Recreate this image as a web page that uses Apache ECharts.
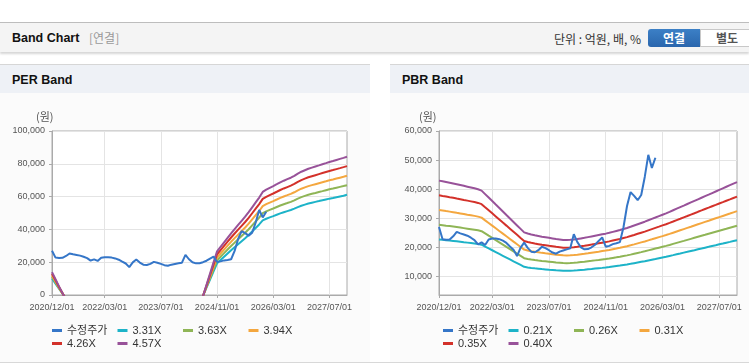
<!DOCTYPE html>
<html><head><meta charset="utf-8">
<script src="https://cdn.jsdelivr.net/npm/echarts@6/dist/echarts.min.js"></script>
<style>
html,body{margin:0;padding:0;width:749px;height:364px;overflow:hidden;background:#fff;font-family:'Noto Sans CJK KR','Liberation Sans',sans-serif;}
.abs{position:absolute;}
#topline{left:0;top:22px;width:749px;height:0;border-top:1px solid #bdbdbd;}
#bar{left:0;top:23px;width:749px;height:29px;background:#f4f4f4;box-shadow:0 2px 2px rgba(0,0,0,0.16);}
#bar .t{position:absolute;left:12px;top:6px;font-weight:bold;font-size:12.5px;line-height:18px;color:#111;font-family:'Liberation Sans',sans-serif;}
#bar .s{position:absolute;left:89px;top:6px;font-size:12px;line-height:18px;color:#999;}
#bar .u{position:absolute;right:108px;top:8px;font-size:12px;line-height:16px;color:#333;}
#b1{left:648px;top:29px;width:52px;height:18px;background:linear-gradient(#3c80c6,#2a66ad);border-radius:3px 0 0 3px;color:#fff;font-weight:bold;font-size:12px;line-height:18px;text-align:center;}
#b2{left:700px;top:29px;width:52px;height:16px;background:#fff;border:1px solid #c8c8c8;color:#555;font-weight:bold;font-size:12px;line-height:16px;text-align:center;}
.ph{top:64px;height:28px;background:#eef1f6;border-top:1px solid #d6d6d6;}
.ph span{position:absolute;left:12px;top:6px;font-weight:bold;font-size:12.5px;line-height:18px;color:#111;font-family:'Liberation Sans',sans-serif;}
.pb{top:93px;height:269px;background:#fbfbfb;}
#bottom{left:0;top:362px;width:749px;height:0;border-top:1px solid #d8d8d8;}
#chart{left:0;top:0;width:749px;height:364px;}
</style></head>
<body>
<div id="topline" class="abs"></div>
<div id="bar" class="abs"><div class="t">Band Chart</div><div class="s">[연결]</div><div class="u">단위 : 억원, 배, %</div></div>
<div id="b1" class="abs">연결</div>
<div id="b2" class="abs">별도</div>
<div class="abs ph" style="left:0;width:370px;"><span>PER Band</span></div>
<div class="abs ph" style="left:390px;width:359px;"><span>PBR Band</span></div>
<div class="abs pb" style="left:0;width:370px;"></div>
<div class="abs pb" style="left:390px;width:359px;"></div>
<div id="bottom" class="abs"></div>
<div id="chart" class="abs"></div>
<script>
var categories = [
'2020/12/01',
'2021/01/01','2021/02/01','2021/03/01','2021/04/01','2021/05/01','2021/06/01','2021/07/01','2021/08/01','2021/09/01','2021/10/01','2021/11/01','2021/12/01',
'2022/01/01','2022/02/01','2022/03/01','2022/04/01','2022/05/01','2022/06/01','2022/07/01','2022/08/01','2022/09/01','2022/10/01','2022/11/01','2022/12/01',
'2023/01/01','2023/02/01','2023/03/01','2023/04/01','2023/05/01','2023/06/01','2023/07/01','2023/08/01','2023/09/01','2023/10/01','2023/11/01','2023/12/01',
'2024/01/01','2024/02/01','2024/03/01','2024/04/01','2024/05/01','2024/06/01','2024/07/01','2024/08/01','2024/09/01','2024/10/01','2024/11/01','2024/12/01',
'2025/01/01','2025/02/01','2025/03/01','2025/04/01','2025/05/01','2025/06/01','2025/07/01','2025/08/01','2025/09/01','2025/10/01','2025/11/01','2025/12/01',
'2026/01/01','2026/02/01','2026/03/01','2026/04/01','2026/05/01','2026/06/01','2026/07/01','2026/08/01','2026/09/01','2026/10/01','2026/11/01','2026/12/01',
'2027/01/01','2027/02/01','2027/03/01','2027/04/01','2027/05/01','2027/06/01','2027/07/01','2027/08/01','2027/09/01','2027/10/01','2027/11/01','2027/12/01'
];
var tickLabels = ['2020/12/01','2022/03/01','2023/07/01','2024/11/01','2026/03/01','2027/07/01'];
var perTicks = [0,20000,40000,60000,80000,100000];
var pbrTicks = [10000,20000,30000,40000,50000,60000];

var price = [27000,22800,22600,22700,23800,25300,24800,24400,24000,23300,
22500,21000,21700,20800,22700,23000,23000,22800,22300,21500,
20300,19200,17000,19900,21600,19800,18500,18300,19000,20200,
19700,19000,18200,17800,18500,18900,19300,19700,24500,21800,
20000,19300,19400,20000,20900,22200,23400,20200,20500,21100,
21400,21800,26900,34200,39000,37700,36200,38000,44200,51800,
47300,50800];

var perNames = ['수정주가','3.31X','3.63X','3.94X','4.26X','4.57X'];
var per331 = [10100,6950,3810,830,-2150,
null,null,null,null,null,null,null,null,null,null,null,null,null,null,null,null,null,null,null,null,null,null,null,null,null,null,null,null,null,null,null,null,null,null,null,null,null,
-5300,-500,4470,9430,14400,19300,21280,23270,25260,27240,29130,30950,32770,34590,36580,38730,40880,43030,45510,46510,47330,48090,48920,49750,50480,51140,51800,52630,53620,54450,55110,55770,56270,56770,57260,57760,58260,58750,59180,59650,60110,60570,61070];
var per363 = [11070,7620,4170,910,-2360,
null,null,null,null,null,null,null,null,null,null,null,null,null,null,null,null,null,null,null,null,null,null,null,null,null,null,null,null,null,null,null,null,null,null,null,null,null,
-5810,-540,4900,10350,15790,21160,23340,25520,27700,29870,31940,33940,35940,37930,40110,42470,44830,47190,49910,51000,51910,52740,53650,54560,55360,56080,56810,57720,58810,59710,60440,61170,61710,62250,62800,63340,63890,64430,64900,65410,65920,66430,66970];
var per394 = [12020,8270,4530,985,-2560,
null,null,null,null,null,null,null,null,null,null,null,null,null,null,null,null,null,null,null,null,null,null,null,null,null,null,null,null,null,null,null,null,null,null,null,null,null,
-6300,-590,5320,11230,17140,22970,25330,27700,30060,32430,34670,36840,39010,41170,43540,46100,48660,51220,54180,55360,56340,57250,58230,59220,60090,60870,61660,62650,63830,64810,65600,66390,66980,67570,68160,68750,69340,69940,70450,71000,71550,72100,72690];
var per426 = [12990,8950,4900,1065,-2770,
null,null,null,null,null,null,null,null,null,null,null,null,null,null,null,null,null,null,null,null,null,null,null,null,null,null,null,null,null,null,null,null,null,null,null,null,null,
-6820,-640,5750,12140,18530,24840,27390,29950,32500,35060,37490,39830,42170,44520,47070,49840,52610,55380,58580,59850,60920,61900,62960,64030,64970,65820,66670,67730,69010,70080,70930,71780,72420,73060,73700,74340,74980,75620,76170,76770,77360,77960,78600];
var per457 = [13940,9600,5260,1140,-2970,
null,null,null,null,null,null,null,null,null,null,null,null,null,null,null,null,null,null,null,null,null,null,null,null,null,null,null,null,null,null,null,null,null,null,null,null,null,
-7310,-690,6170,13020,19880,26640,29390,32130,34870,37610,40220,42730,45240,47760,50500,53470,56440,59410,62840,64210,65350,66400,67540,68690,69690,70610,71520,72660,74030,75180,76090,77000,77690,78380,79060,79750,80430,81120,81710,82350,82990,83630,84320];

var pbrNames = ['수정주가','0.21X','0.26X','0.31X','0.35X','0.40X'];
var pbr021 = [22700,22580,22450,22320,22200,22050,21900,21750,21610,21460,
21310,21140,20890,20260,19620,18990,18360,17720,17090,16460,
15830,15190,14560,13930,13290,13080,12910,12770,12640,12510,
12410,12300,12200,12090,12010,11920,11900,11940,12010,12090,
12200,12300,12430,12550,12680,12810,12930,13060,13210,13380,
13550,13720,13910,14100,14310,14540,14770,15000,15230,15490,
15740,15990,16250,16500,16750,17030,17310,17600,17880,18170,
18450,18740,19020,19310,19590,19880,20160,20450,20730,21020,
21300,21590,21870,22160,22440];
var pbr026 = [27760,27610,27450,27300,27140,26960,26780,26600,26420,26240,
26060,25850,25540,24770,23990,23220,22450,21670,20900,20120,
19350,18580,17800,17030,16250,16000,15790,15610,15450,15300,
15170,15040,14910,14780,14680,14580,14550,14600,14680,14780,
14910,15040,15200,15350,15510,15660,15820,15970,16150,16360,
16560,16770,17000,17230,17490,17780,18060,18340,18630,18940,
19250,19560,19870,20180,20490,20820,21170,21520,21870,22210,
22560,22910,23260,23610,23960,24300,24650,25000,25350,25700,
26050,26390,26740,27090,27440];
var pbr031 = [32820,32640,32450,32270,32090,31870,31660,31450,31230,31020,
30810,30560,30200,29280,28370,27450,26540,25620,24710,23790,
22880,21960,21050,20130,19220,18910,18670,18450,18270,18090,
17930,17780,17630,17480,17360,17230,17200,17260,17360,17480,
17630,17780,17960,18150,18330,18510,18700,18880,19090,19340,
19580,19830,20100,20370,20680,21010,21350,21690,22020,22390,
22750,23120,23490,23850,24220,24610,25030,25440,25850,26260,
26670,27080,27500,27910,28320,28730,29140,29560,29970,30380,
30790,31200,31610,32030,32440];
var pbr035 = [37880,37660,37450,37240,37030,36780,36540,36290,36050,35800,
35550,35270,34850,33790,32740,31680,30620,29570,28510,27460,
26400,25340,24290,23230,22180,21820,21540,21300,21090,20870,
20700,20520,20350,20170,20030,19890,19850,19920,20030,20170,
20350,20520,20730,20940,21160,21370,21580,21790,22040,22320,
22600,22880,23200,23510,23870,24250,24640,25030,25410,25840,
26260,26680,27100,27530,27950,28410,28880,29360,29830,30310,
30780,31260,31730,32210,32680,33160,33630,34110,34580,35060,
35530,36010,36480,36960,37440];
var pbr040 = [42930,42690,42450,42210,41970,41700,41420,41140,40860,40580,
40300,39980,39500,38300,37110,35910,34710,33520,32320,31120,
29930,28730,27530,26330,25140,24740,24420,24140,23900,23660,
23460,23260,23060,22860,22700,22540,22500,22580,22700,22860,
23060,23260,23500,23740,23980,24220,24460,24700,24980,25300,
25620,25940,26290,26650,27050,27490,27930,28370,28810,29290,
29770,30240,30720,31200,31680,32200,32740,33280,33820,34350,
34890,35430,35970,36510,37050,37590,38120,38660,39200,39740,
40280,40820,41360,41900,42430];

var colors = ['#3576c8','#1db3c8','#8fb556','#f4a73f','#d3312a','#985299'];
var numFont = "'Liberation Sans','Noto Sans CJK KR',sans-serif";

function showTick(i, v){ return tickLabels.indexOf(v) >= 0; }

function xAxisFor(g){
  return {
    type:'category', gridIndex:g, data:categories, boundaryGap:false,
    axisLine:{lineStyle:{color:'#aaaaaa',width:1}},
    axisTick:{show:true, interval:showTick, length:3, lineStyle:{color:'#aaaaaa'}},
    axisLabel:{interval:showTick, fontSize:9, color:'#555', margin:8, fontFamily:numFont, hideOverlap:false},
    splitLine:{show:true, interval:showTick, lineStyle:{color:'#e4e4e4',width:1}}
  };
}
function yAxisFor(g, mn, mx, ticks){
  return {
    type:'value', gridIndex:g, min:mn, max:mx,
    axisLine:{show:true, lineStyle:{color:'#aaaaaa'}},
    axisTick:{show:true, length:3, customValues:ticks, lineStyle:{color:'#aaaaaa'}},
    axisLabel:{customValues:ticks, fontSize:9, color:'#555', margin:7, fontFamily:numFont},
    splitLine:{show:true, lineStyle:{color:'#e4e4e4',width:1}}
  };
}
function seriesFor(g, names, arrs){
  return arrs.map(function(d, k){
    return {
      type:'line', name:names[k], xAxisIndex:g, yAxisIndex:g, data:d,
      showSymbol:false, symbol:'none', connectNulls:false, clip:true,
      lineStyle:{width:2, color:colors[k]}, itemStyle:{color:colors[k]},
      z: k===0 ? 10 : 5, emphasis:{disabled:true}
    };
  });
}
function legendFor(left, names){
  return {
    left:left, top:324, width:275, orient:'horizontal', padding:0,
    itemWidth:10, itemHeight:3, itemGap:0, icon:'rect',
    data:names, selectedMode:false,
    textStyle:{fontSize:11, color:'#333', width:50.5, lineHeight:13, fontFamily:numFont}
  };
}

var chart = echarts.init(document.getElementById('chart'), null, {renderer:'canvas'});
chart.setOption({
  animation:false,
  backgroundColor:'transparent',
  grid:[
    {left:52, top:131, width:295, height:164, show:true, borderColor:'#aaaaaa', borderWidth:1, backgroundColor:'#ffffff'},
    {left:439, top:131, width:298, height:164, show:true, borderColor:'#aaaaaa', borderWidth:1, backgroundColor:'#ffffff'}
  ],
  xAxis:[xAxisFor(0), xAxisFor(1)],
  yAxis:[yAxisFor(0, 0, 100000, perTicks), yAxisFor(1, 3600, 60000, pbrTicks)],
  legend:[legendFor(52, perNames), legendFor(443, pbrNames)],
  graphic:[
    {type:'text', left:36, top:111, style:{text:'(원)', fontSize:11, fill:'#555', fontFamily:"'Noto Sans CJK KR',sans-serif"}},
    {type:'text', left:419, top:111, style:{text:'(원)', fontSize:11, fill:'#555', fontFamily:"'Noto Sans CJK KR',sans-serif"}}
  ],
  series: seriesFor(0, perNames, [price, per331, per363, per394, per426, per457])
    .concat(seriesFor(1, pbrNames, [price, pbr021, pbr026, pbr031, pbr035, pbr040]))
});
</script>
</body></html>
